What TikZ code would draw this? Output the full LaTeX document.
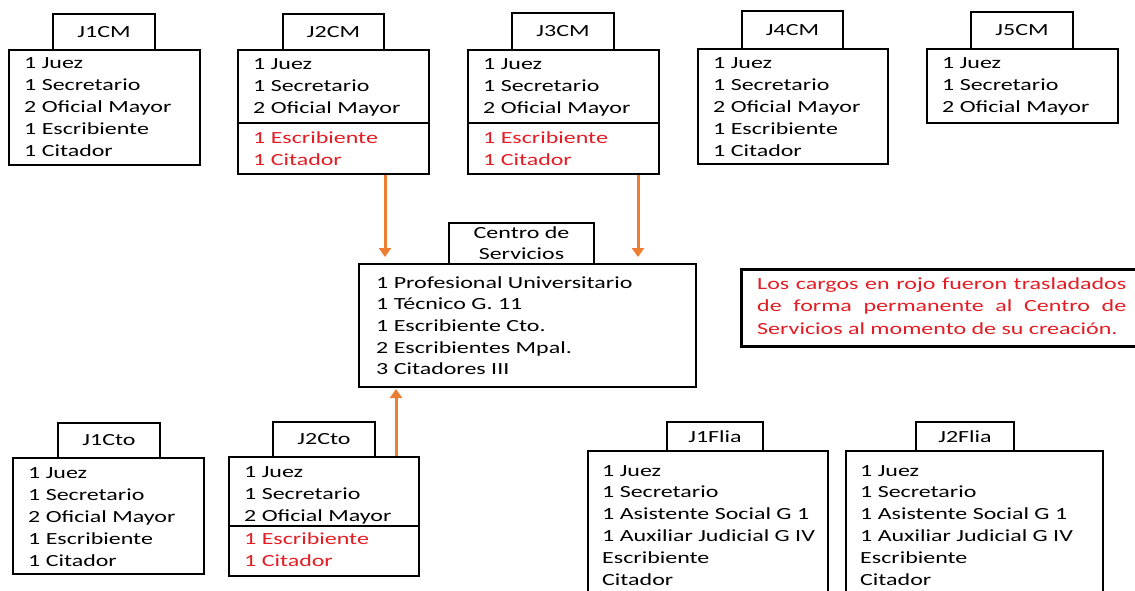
\documentclass[tikz,border=0pt]{standalone}
\usepackage{fontspec}
\setmainfont{Carlito}[FakeStretch=1.41]
\usetikzlibrary{arrows.meta}
\definecolor{txtred}{RGB}{228,28,36}
\definecolor{arrorange}{RGB}{237,125,49}
\newcommand\rows[2][22pt]{\vtop{\baselineskip=#1\lineskiplimit=-20pt\lineskip=0pt #2}}
\tikzset{
  box/.style={draw, line width=2pt, inner sep=0pt, anchor=north west},
  ttl/.style={box, font=\fontsize{17}{21}\selectfont},
  txt/.style={inner sep=0pt, anchor=base west, font=\fontsize{17}{22}\selectfont},
  redtxt/.style={txt, text=txtred},
  arr/.style={draw=arrorange, line width=3pt, -{Triangle[length=9pt,width=12pt]}},
  divider/.style={line width=2pt},
}
\begin{document}
\begin{tikzpicture}[x=1pt,y=-1pt]
\useasboundingbox (0,0) rectangle (1135,591);
\fill[white] (0,0) rectangle (1135,591);

% ---- top row ----
\node[box, minimum width=191pt, minimum height=115pt] (j1cm) at (8,49) {};
\node[ttl, fill=white, minimum width=102pt, minimum height=36pt] (j1cmT) at (52,13) {J1CM};
\node[txt] (j1cmL) at (24,69) {\rows{\hbox{1 Juez}\hbox{1 Secretario}\hbox{2 Oficial Mayor}\hbox{1 Escribiente}\hbox{1 Citador}}};

\node[box, minimum width=191pt, minimum height=124pt] (j2cm) at (237,49) {};
\node[ttl, fill=white, minimum width=101pt, minimum height=36pt] (j2cmT) at (282,13) {J2CM};
\draw[divider] ([yshift=-74pt]j2cm.north west) -- ([yshift=-74pt]j2cm.north east);
\node[txt] (j2cmL) at (253,70) {\rows{\hbox{1 Juez}\hbox{1 Secretario}\hbox{2 Oficial Mayor}}};
\node[redtxt] (j2cmR) at (253,143) {\rows{\hbox{1 Escribiente}\hbox{1 Citador}}};

\node[box, minimum width=191pt, minimum height=124pt] (j3cm) at (467,49) {};
\node[ttl, fill=white, minimum width=102pt, minimum height=37pt] (j3cmT) at (511,12) {J3CM};
\draw[divider] ([yshift=-74pt]j3cm.north west) -- ([yshift=-74pt]j3cm.north east);
\node[txt] (j3cmL) at (483,70) {\rows{\hbox{1 Juez}\hbox{1 Secretario}\hbox{2 Oficial Mayor}}};
\node[redtxt] (j3cmR) at (483,143) {\rows{\hbox{1 Escribiente}\hbox{1 Citador}}};

\node[box, minimum width=190pt, minimum height=115pt] (j4cm) at (697,48) {};
\node[ttl, fill=white, minimum width=101pt, minimum height=38pt] (j4cmT) at (741,10) {J4CM};
\node[txt] (j4cmL) at (713,69) {\rows{\hbox{1 Juez}\hbox{1 Secretario}\hbox{2 Oficial Mayor}\hbox{1 Escribiente}\hbox{1 Citador}}};

\node[box, minimum width=191pt, minimum height=74pt] (j5cm) at (926,48) {};
\node[ttl, fill=white, minimum width=102pt, minimum height=37pt] (j5cmT) at (970,11) {J5CM};
\node[txt] (j5cmL) at (942,69) {\rows{\hbox{1 Juez}\hbox{1 Secretario}\hbox{2 Oficial Mayor}}};

% ---- centre ----
\node[box, minimum width=337pt, minimum height=123pt] (cs) at (358,263) {};
\node[ttl, fill=white, align=center, minimum width=145pt, minimum height=41pt] (csT) at (448,222) {Centro de\\Servicios};
\node[txt] (csL) at (376,288) {\rows[21.7pt]{\hbox{1 Profesional Universitario}\hbox{1 Técnico G. 11}\hbox{1 Escribiente Cto.}\hbox{2 Escribientes Mpal.}\hbox{3 Citadores III}}};

% ---- note ----
\node[box, line width=2.5pt, minimum width=405pt, minimum height=77pt] (note) at (740,268) {};
\node[txt, text=txtred] (noteL) at (757,289) {\vtop{\hsize=369pt\parindent=0pt\baselineskip=22.5pt Los cargos en rojo fueron trasladados\linebreak de forma permanente al Centro de\linebreak Servicios al momento de su creación.}};

% ---- bottom row ----
\node[box, minimum width=191pt, minimum height=116pt] (j1cto) at (12,457) {};
\node[ttl, fill=white, minimum width=102pt, minimum height=35pt] (j1ctoT) at (57,422) {J1Cto};
\node[txt] (j1ctoL) at (28,478) {\rows{\hbox{1 Juez}\hbox{1 Secretario}\hbox{2 Oficial Mayor}\hbox{1 Escribiente}\hbox{1 Citador}}};

\node[box, minimum width=190pt, minimum height=119pt] (j2cto) at (228,456) {};
\node[ttl, fill=white, minimum width=102pt, minimum height=35pt] (j2ctoT) at (272,421) {J2Cto};
\draw[divider] ([yshift=-70pt]j2cto.north west) -- ([yshift=-70pt]j2cto.north east);
\node[txt] (j2ctoL) at (244,477) {\rows{\hbox{1 Juez}\hbox{1 Secretario}\hbox{2 Oficial Mayor}}};
\node[redtxt] (j2ctoR) at (244,544) {\rows{\hbox{1 Escribiente}\hbox{1 Citador}}};

\node[box, minimum width=240pt, minimum height=142pt] (j1fl) at (587,450) {};
\node[ttl, fill=white, minimum width=96pt, minimum height=29pt] (j1flT) at (666,421) {J1Flia};
\node[txt] (j1flL) at (602,476) {\rows[21.8pt]{\hbox{1 Juez}\hbox{1 Secretario}\hbox{1 Asistente Social G 1}\hbox{1 Auxiliar Judicial G IV}\hbox{Escribiente}\hbox{Citador}}};

\node[box, minimum width=257pt, minimum height=142pt] (j2fl) at (845,450) {};
\node[ttl, fill=white, minimum width=98pt, minimum height=29pt] (j2flT) at (915,421) {J2Flia};
\node[txt] (j2flL) at (860,476) {\rows[21.8pt]{\hbox{1 Juez}\hbox{1 Secretario}\hbox{1 Asistente Social G 1}\hbox{1 Auxiliar Judicial G IV}\hbox{Escribiente}\hbox{Citador}}};

% ---- arrows ----
\draw[arr, shorten >=6pt] ([xshift=51.5pt]j2cm.south) -- ([xshift=51.5pt]j2cm.south |- cs.north);
\draw[arr, shorten >=6pt] ([xshift=74.5pt]j3cm.south) -- ([xshift=74.5pt]j3cm.south |- cs.north);
\draw[arr, shorten >=1pt] ([xshift=72pt]j2cto.north) -- ([xshift=72pt]j2cto.north |- cs.south);
\end{tikzpicture}
\end{document}
